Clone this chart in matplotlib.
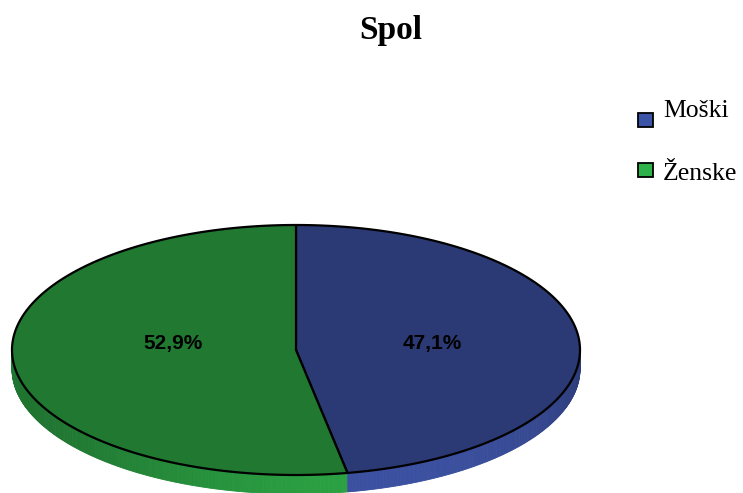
import numpy as np
import matplotlib.pyplot as plt
from matplotlib.patches import Polygon, Rectangle
from matplotlib.colors import to_rgb

# podatki
labels = ['Moški', 'Ženske']
values = [47.1, 52.9]
value_labels = ['47,1%', '52,9%']
top_colors = ['#2b3a74', '#217831']
side_colors = ['#3b50a0', '#2ba243']
legend_colors = ['#3a55a8', '#2db34a']

W, H = 743, 493
fig = plt.figure(figsize=(W / 100, H / 100), dpi=100)
ax = fig.add_axes([0, 0, 1, 1])
ax.set_xlim(0, W)
ax.set_ylim(H, 0)
ax.axis('off')

# geometrija elipse (piksli)
cx, cy, rx, ry, depth = 296, 350, 284, 125, 19


def pt(t, dy=0.0):
    t = np.radians(t)
    return cx + rx * np.cos(t), cy - ry * np.sin(t) + dy


fracs = np.array(values) / np.sum(values)
# Ženske: od 90 v nasprotni smeri (skozi levo), Moški: preostanek do 90
ends = [90, 90 + fracs[1] * 360]
starts = [ends[1] - 360, 90]

# stranski rob (spredaj), z gradientom
steps = np.linspace(180, 360, 361)
for a, b in zip(steps[:-1], steps[1:]):
    mid = (a + b) / 2
    k = 1 if mid < ends[1] else 0
    shade = 0.72 + 0.28 * np.cos(np.radians(mid - 290)) ** 2
    col = np.clip(np.array(to_rgb(side_colors[k])) * shade, 0, 1)
    p = [pt(a), pt(b), pt(b, depth), pt(a, depth)]
    ax.add_patch(Polygon(p, closed=True, facecolor=col, edgecolor=col, lw=0.6))

# zgornja ploskev
for k in range(2):
    ts = np.linspace(starts[k], ends[k], 300)
    xs, ys = pt(ts)
    poly = np.column_stack([np.r_[cx, xs], np.r_[cy, ys]])
    ax.add_patch(Polygon(poly, closed=True, facecolor=top_colors[k],
                         edgecolor='black', lw=1.6, joinstyle='round'))

# oznake vrednosti
label_r = [0.48, 0.435]
for k in range(2):
    mid = np.radians((starts[k] + ends[k]) / 2)
    lx = cx + rx * np.cos(mid) * label_r[k]
    ax.text(lx, cy - 7, value_labels[k], ha='center', va='center',
            fontsize=15, fontweight='bold', family='Liberation Sans', color='black')

# naslov
ax.text(391, 39, 'Spol', ha='center', va='baseline', fontsize=24,
        fontweight='bold', family='Liberation Serif')

# legenda
legend_box_y = [113, 163]
legend_text_y = [117, 180]
for lab, col, by, ty in zip(labels, legend_colors, legend_box_y, legend_text_y):
    ax.add_patch(Rectangle((638, by), 15, 14, facecolor=col, edgecolor='black', lw=1.3))
    ax.text(663, ty, lab, ha='left', va='baseline', fontsize=18.5,
            family='Liberation Serif')

fig.savefig('out.png', dpi=100)
